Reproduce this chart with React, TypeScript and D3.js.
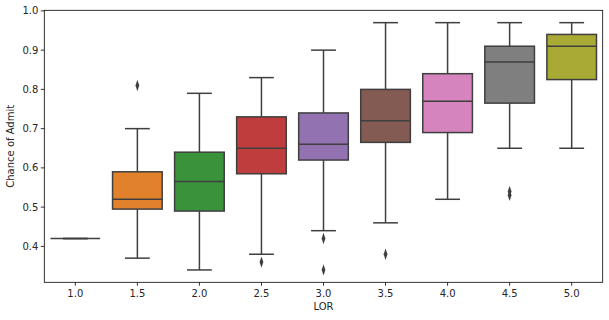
import React from "react";
import * as d3 from "d3";

const categories = ["1.0", "1.5", "2.0", "2.5", "3.0", "3.5", "4.0", "4.5", "5.0"];
const whiskerLow = [0.42, 0.37, 0.34, 0.38, 0.44, 0.46, 0.52, 0.65, 0.65];
const q1 = [0.42, 0.495, 0.49, 0.585, 0.62, 0.665, 0.69, 0.765, 0.825];
const medians = [0.42, 0.52, 0.565, 0.65, 0.66, 0.72, 0.77, 0.87, 0.91];
const q3 = [0.42, 0.59, 0.64, 0.73, 0.74, 0.80, 0.84, 0.91, 0.94];
const whiskerHigh = [0.42, 0.70, 0.79, 0.83, 0.90, 0.97, 0.97, 0.97, 0.97];
const outliers: number[][] = [[], [0.81], [], [0.36], [0.42, 0.34], [0.38], [], [0.53, 0.54], []];
const colors = ["#3274a1", "#e1812c", "#3a923a", "#c03d3e", "#9372b2", "#845b53", "#d684bd", "#7f7f7f", "#a9aa35"];
const yTicks = [0.4, 0.5, 0.6, 0.7, 0.8, 0.9, 1.0];

export default function App() {
  const W = 609, H = 320;
  const left = 44.3, right = 602.7, top = 10.3, bottom = 282.3;
  const x = d3.scaleBand<string>().domain(categories).range([left, right]).paddingInner(0).paddingOuter(0);
  const y = d3.scaleLinear().domain([0.3085, 1.0015]).range([bottom, top]);
  const bw = x.bandwidth() * 0.8;
  const line = "#3f3f3f";
  const font = "DejaVu Sans, sans-serif";
  const diamond = d3.symbol().type(d3.symbolDiamond).size(22)();
  return (
    <svg width={W} height={H} style={{ position: "absolute", left: 0, top: 0 }} fontFamily={font}>
      <rect x={0} y={0} width={W} height={H} fill="#fff" />
      {categories.map((c, i) => {
        const cx = x(c)! + x.bandwidth() / 2;
        const x0 = cx - bw / 2;
        return (
          <g key={c}>
            <line x1={cx} x2={cx} y1={y(q3[i])} y2={y(whiskerHigh[i])} stroke={line} strokeWidth={1.5} />
            <line x1={cx} x2={cx} y1={y(q1[i])} y2={y(whiskerLow[i])} stroke={line} strokeWidth={1.5} />
            <line x1={cx - bw / 4} x2={cx + bw / 4} y1={y(whiskerHigh[i])} y2={y(whiskerHigh[i])} stroke={line} strokeWidth={1.5} />
            <line x1={cx - bw / 4} x2={cx + bw / 4} y1={y(whiskerLow[i])} y2={y(whiskerLow[i])} stroke={line} strokeWidth={1.5} />
            <rect x={x0} y={y(q3[i])} width={bw} height={Math.max(0, y(q1[i]) - y(q3[i]))} fill={colors[i]} stroke={line} strokeWidth={1.5} />
            <line x1={x0} x2={x0 + bw} y1={y(medians[i])} y2={y(medians[i])} stroke={line} strokeWidth={1.5} />
            {outliers[i].map((v, k) => (
              <path key={k} d={diamond!} transform={`translate(${cx},${y(v)}) scale(0.75,1.3)`} fill={line} />
            ))}
          </g>
        );
      })}
      <rect x={left} y={top} width={right - left} height={bottom - top} fill="none" stroke="#000" strokeWidth={0.8} />
      {yTicks.map((t) => (
        <g key={t}>
          <line x1={left - 3.5} x2={left} y1={y(t)} y2={y(t)} stroke="#000" strokeWidth={0.8} />
          <text x={left - 6} y={y(t)} dy="0.35em" textAnchor="end" fontSize={10} fill="#262626">{t.toFixed(1)}</text>
        </g>
      ))}
      {categories.map((c) => {
        const cx = x(c)! + x.bandwidth() / 2;
        return (
          <g key={c}>
            <line x1={cx} x2={cx} y1={bottom} y2={bottom + 3.5} stroke="#000" strokeWidth={0.8} />
            <text x={cx} y={bottom + 15} textAnchor="middle" fontSize={10} fill="#262626">{c}</text>
          </g>
        );
      })}
      <text x={(left + right) / 2} y={310} textAnchor="middle" fontSize={10} fill="#262626">LOR</text>
      <text transform={`translate(14,${(top + bottom) / 2}) rotate(-90)`} textAnchor="middle" fontSize={10} fill="#262626">Chance of Admit</text>
    </svg>
  );
}
